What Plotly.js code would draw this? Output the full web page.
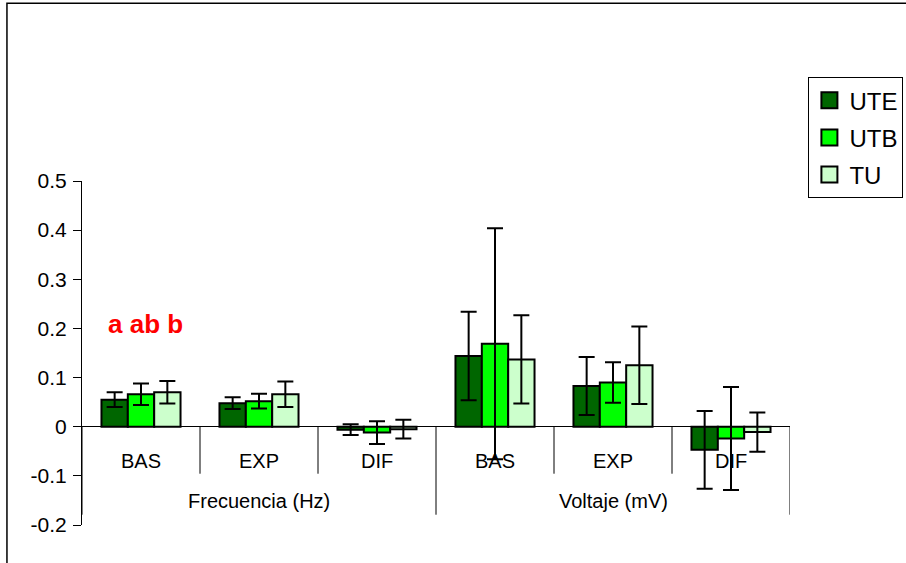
<!DOCTYPE html>
<html>
<head>
<meta charset="utf-8">
<script src="https://cdn.plot.ly/plotly-3.0.1.min.js"></script>
<style>
  html, body { margin: 0; padding: 0; background: #fff; }
  #chart { width: 906px; height: 563px; }
</style>
</head>
<body>
<div id="chart"></div>
<script>
// Category structure: measured variable (group) and recording phase (sub-category)
const groups = ['Frecuencia (Hz)', 'Frecuencia (Hz)', 'Frecuencia (Hz)', 'Voltaje (mV)', 'Voltaje (mV)', 'Voltaje (mV)'];
const phases = ['BAS', 'EXP', 'DIF', 'BAS', 'EXP', 'DIF'];
const groupNames = ['Frecuencia (Hz)', 'Voltaje (mV)'];

// Means and error magnitudes per series
const uteValues = [0.055, 0.048, -0.006, 0.144, 0.083, -0.047];
const uteErrors = [0.015, 0.012, 0.011, 0.090, 0.059, 0.079];
const utbValues = [0.066, 0.052, -0.012, 0.169, 0.090, -0.024];
const utbErrors = [0.022, 0.015, 0.023, 0.235, 0.041, 0.105];
const tuValues  = [0.070, 0.066, -0.005, 0.137, 0.125, -0.011];
const tuErrors  = [0.023, 0.026, 0.019, 0.090, 0.079, 0.040];

const seriesNames = ['UTE', 'UTB', 'TU'];

// Y axis ticks
const yTickValues = [-0.2, -0.1, 0, 0.1, 0.2, 0.3, 0.4, 0.5];
const yTickLabels = ['-0.2', '-0.1', '0', '0.1', '0.2', '0.3', '0.4', '0.5'];

// Significance letters
const letterText = 'a ab b';

const FONT = 'Liberation Sans, Arial, Helvetica, sans-serif';
const colors = ['#006600', '#00ff00', '#ccffcc'];

// unique category keys for the x axis
const keys = phases.map((p, i) => groups[i] + '|' + p + '|' + i);

const valueSets = [uteValues, utbValues, tuValues];
const errorSets = [uteErrors, utbErrors, tuErrors];

const traces = [];
valueSets.forEach((vals, s) => {
  traces.push({
    type: 'bar',
    name: seriesNames[s],
    x: keys,
    y: vals,
    showlegend: false,
    marker: { color: colors[s], line: { color: '#000', width: 2 } },
    error_y: { type: 'data', array: errorSets[s], visible: true, color: '#000', thickness: 2, width: 8 },
    hoverinfo: 'skip'
  });
});
// legend entries with square swatches
valueSets.forEach((vals, s) => {
  traces.push({
    type: 'scatter',
    mode: 'markers',
    name: seriesNames[s],
    legendgroup: 'g' + s,
    x: [null],
    y: [null],
    marker: { symbol: 'square', size: 16, color: colors[s], line: { color: '#000', width: 2 } },
    showlegend: true
  });
});

// phase labels below the zero line, group labels below them
const annotations = [];
keys.forEach((k, i) => {
  annotations.push({
    xref: 'x', yref: 'y', x: k, y: 0, yshift: -34,
    text: phases[i], showarrow: false, yanchor: 'middle',
    font: { family: FONT, size: 20, color: '#000' }
  });
});
groupNames.forEach((g, j) => {
  annotations.push({
    xref: 'x', yref: 'y', x: keys[j * 3 + 1], y: 0, yshift: -74,
    text: g, showarrow: false, yanchor: 'middle',
    font: { family: FONT, size: 20, color: '#000' }
  });
});
annotations.push({
  xref: 'paper', yref: 'paper', x: 0.089, y: 0.584,
  text: '<b>' + letterText + '</b>', showarrow: false,
  xanchor: 'center', yanchor: 'middle',
  font: { family: FONT, size: 26, color: '#ff0000' }
});

// category dividers hanging from the zero line
const shapes = [];
for (let b = 0; b <= keys.length; b++) {
  const outer = (b % 3 === 0);
  shapes.push({
    type: 'line', xref: 'x', yref: 'y',
    x0: b - 0.5, x1: b - 0.5,
    ysizemode: 'pixel', yanchor: 0,
    y0: 0, y1: outer ? -88 : -47,
    line: { color: '#000', width: 1 }
  });
}
// chart frame
shapes.push({
  type: 'rect', xref: 'paper', yref: 'paper',
  x0: -0.106, x1: 1.4, y0: -0.3, y1: 1.517,
  line: { color: '#000', width: 1.5 }, fillcolor: 'rgba(0,0,0,0)', layer: 'below'
});

const layout = {
  width: 906, height: 563,
  margin: { l: 82, r: 116, t: 181, b: 38, autoexpand: false },
  paper_bgcolor: '#fff', plot_bgcolor: '#fff',
  font: { family: FONT, size: 20, color: '#000' },
  barmode: 'group', bargap: 0.33, bargroupgap: 0,
  xaxis: {
    type: 'category', categoryorder: 'array', categoryarray: keys,
    range: [-0.5, keys.length - 0.5],
    showticklabels: false, ticks: '', showgrid: false, showline: false, zeroline: false,
    fixedrange: true
  },
  yaxis: {
    range: [-0.2, 0.5], tickvals: yTickValues, ticktext: yTickLabels,
    ticks: 'outside', ticklen: 8, tickcolor: '#000', tickwidth: 1,
    showline: true, linecolor: '#000', linewidth: 1,
    showgrid: false, zeroline: true, zerolinecolor: '#000', zerolinewidth: 1,
    tickfont: { family: FONT, size: 21, color: '#000' },
    ticklabelstandoff: 2, fixedrange: true
  },
  legend: {
    x: 1.026, y: 1.302, xanchor: 'left', yanchor: 'top',
    bordercolor: '#000', borderwidth: 1, bgcolor: '#fff',
    font: { family: FONT, size: 24, color: '#000' },
    traceorder: 'grouped', tracegroupgap: 3, itemwidth: 30
  },
  annotations: annotations,
  shapes: shapes,
  showlegend: true
};

Plotly.newPlot('chart', traces, layout, { displayModeBar: false, staticPlot: true });
</script>
</body>
</html>
